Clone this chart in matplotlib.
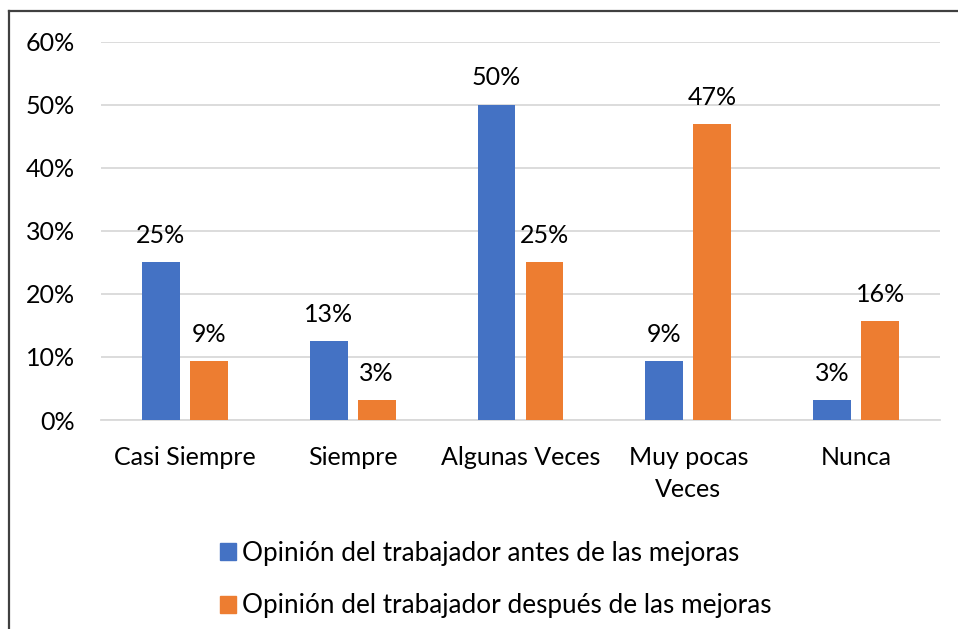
import numpy as np
import matplotlib
matplotlib.use("Agg")
import matplotlib.pyplot as plt
from matplotlib.lines import Line2D
from matplotlib.patches import Patch

categories = ["Casi Siempre", "Siempre", "Algunas Veces", "Muy pocas\nVeces", "Nunca"]
antes = [25.0, 12.5, 50.0, 9.375, 3.125]
despues = [9.375, 3.125, 25.0, 46.875, 15.625]
series_names = ["Opinión del trabajador antes de las mejoras",
                "Opinión del trabajador después de las mejoras"]
y_ticks = [0, 10, 20, 30, 40, 50, 60]

BLUE = "#4472C4"
ORANGE = "#ED7D31"
FS = 18

plt.rcParams["font.family"] = ["Lato", "DejaVu Sans"]

fig = plt.figure(figsize=(9.58, 6.29), dpi=100)
ax = fig.add_axes([101 / 958, 1 - 420 / 629, 839 / 958, (420 - 41.7) / 629])

x = np.arange(len(categories))
w = 0.226
off = 0.143
b1 = ax.bar(x - off, antes, w, color=BLUE, zorder=3)
b2 = ax.bar(x + off, despues, w, color=ORANGE, zorder=3)

for bars, vals in ((b1, antes), (b2, despues)):
    for bar, v in zip(bars, vals):
        # excel style rounding (half up)
        ax.annotate(f"{int(v + 0.5)}%", (bar.get_x() + bar.get_width() / 2, v),
                    xytext=(0, 11), textcoords="offset points",
                    ha="center", va="bottom", fontsize=FS, color="#000000")

ax.set_xlim(-0.5, len(categories) - 0.5)
ax.set_ylim(0, 60)
ax.set_yticks(y_ticks)
ax.set_yticklabels([f"{t}%" for t in y_ticks], fontsize=FS)
ax.set_xticks(x)
ax.set_xticklabels(categories, fontsize=FS, linespacing=1.5, va="top")
ax.tick_params(axis="both", length=0, colors="#000000")
ax.tick_params(axis="y", pad=18.5)
ax.tick_params(axis="x", pad=18.5)
ax.yaxis.grid(True, color="#D9D9D9", linewidth=1.3, zorder=0)
for s in ["top", "right", "left"]:
    ax.spines[s].set_visible(False)
ax.spines["bottom"].set_color("#D9D9D9")
ax.spines["bottom"].set_linewidth(1.3)

handles = [Patch(color=BLUE), Patch(color=ORANGE)]
fig.legend(handles, series_names, loc="upper left",
           bbox_to_anchor=(196 / 958, 1 - 517 / 629), frameon=False,
           fontsize=18.8, handlelength=0.62, handleheight=0.62,
           handletextpad=0.25, labelspacing=1.07)

# outer chart frame (cropped on the right and bottom)
fig.add_artist(Line2D([9 / 958, 1.0], [1 - 11 / 629] * 2, color="#404040",
                      linewidth=1.6, transform=fig.transFigure))
fig.add_artist(Line2D([9 / 958] * 2, [0, 1 - 11 / 629], color="#404040",
                      linewidth=1.6, transform=fig.transFigure))

fig.savefig("out.png", dpi=100)
